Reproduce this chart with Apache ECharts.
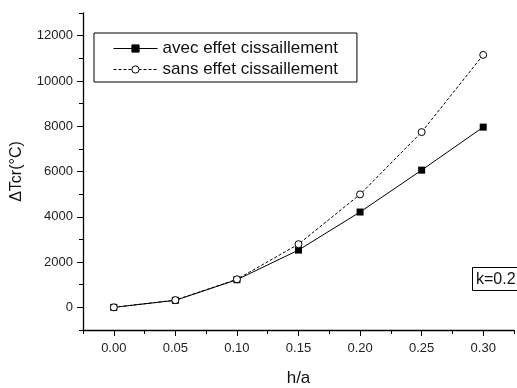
<!DOCTYPE html>
<html>
<head>
<meta charset="utf-8">
<script src="https://cdn.jsdelivr.net/npm/echarts@6/dist/echarts.min.js"></script>
<style>
html,body{margin:0;padding:0;background:#fff;}
#c{width:517px;height:388px;}
</style>
</head>
<body>
<div id="c"></div>
<script>
var hValues = [0.00, 0.05, 0.10, 0.15, 0.20, 0.25, 0.30];
var avecEffet = [0, 310, 1220, 2530, 4210, 6060, 7960];
var sansEffet = [0, 320, 1240, 2790, 4990, 7740, 11150];
var xMajorTicks = [0.00, 0.05, 0.10, 0.15, 0.20, 0.25, 0.30];
var yMajorTicks = [0, 2000, 4000, 6000, 8000, 10000, 12000];
var seriesNames = ['avec effet cissaillement', 'sans effet cissaillement'];

var FONT = 'Liberation Sans, Arial, sans-serif';
var chart = echarts.init(document.getElementById('c'));

function pairs(xs, ys) { return xs.map(function (x, i) { return [x, ys[i]]; }); }

var axisLineStyle = { color: '#000', width: 1.3 };

chart.setOption({
  animation: false,
  backgroundColor: '#fff',
  grid: { left: 83, right: 3, top: 13, bottom: 58, containLabel: false, outerBoundsMode: 'none' },
  title: {
    text: 'k=0.2', left: 472, top: 267,
    borderColor: '#000', borderWidth: 1, padding: [4, 4, 3, 4],
    textStyle: { fontFamily: FONT, fontSize: 16, fontWeight: 'normal', color: '#111', lineHeight: 17 }
  },
  legend: {
    data: seriesNames, orient: 'vertical', left: 94, top: 33,
    borderColor: '#000', borderWidth: 1, padding: [7, 19, 4, 19],
    itemWidth: 44, itemHeight: 9, itemGap: 4, selectedMode: false,
    itemStyle: { borderWidth: 1 },
    lineStyle: { width: 1 },
    textStyle: { fontFamily: FONT, fontSize: 17, color: '#111', lineHeight: 17 }
  },
  xAxis: [{
    type: 'value', min: -0.025, max: 0.325, interval: 0.025,
    name: 'h/a', nameLocation: 'middle', nameGap: 40,
    nameTextStyle: { fontFamily: FONT, fontSize: 17, color: '#111' },
    axisLine: { onZero: false, lineStyle: axisLineStyle },
    axisTick: { length: 4, lineStyle: { color: '#000' } },
    splitLine: { show: false },
    axisLabel: {
      fontFamily: FONT, fontSize: 13, color: '#222', margin: 12,
      formatter: function (v) {
        var r = Math.round(v * 1000);
        return (r % 50 === 0 && r >= 0) ? (r / 1000).toFixed(2) : '';
      }
    }
  }, {
    type: 'value', min: -0.025, max: 0.325, position: 'bottom',
    axisLine: { show: false, onZero: false },
    axisTick: { show: true, length: 6, customValues: xMajorTicks, lineStyle: { color: '#000' } },
    axisLabel: { show: false }, splitLine: { show: false }
  }],
  yAxis: [{
    type: 'value', min: -1000, max: 13000, interval: 1000,
    name: 'ΔTcr(°C)', nameLocation: 'middle', nameGap: 58,
    nameTextStyle: { fontFamily: FONT, fontSize: 16, color: '#111' },
    axisLine: { show: true, onZero: false, lineStyle: axisLineStyle },
    axisTick: { show: true, length: 4, lineStyle: { color: '#000' } },
    splitLine: { show: false },
    axisLabel: {
      fontFamily: FONT, fontSize: 13, color: '#222', margin: 10,
      formatter: function (v) { return (v % 2000 === 0) ? String(v) : ''; }
    }
  }, {
    type: 'value', min: -1000, max: 13000, position: 'left',
    axisLine: { show: false, onZero: false },
    axisTick: { show: true, length: 6, customValues: yMajorTicks, lineStyle: { color: '#000' } },
    axisLabel: { show: false }, splitLine: { show: false }
  }],
  series: [{
    name: seriesNames[0], type: 'line', data: pairs(hValues, avecEffet),
    symbol: 'rect', symbolSize: 7,
    lineStyle: { color: '#000', width: 1 },
    itemStyle: { color: '#000', borderColor: '#000', borderWidth: 0 },
    z: 2
  }, {
    name: seriesNames[1], type: 'line', data: pairs(hValues, sansEffet),
    symbol: 'circle', symbolSize: 7,
    lineStyle: { color: '#000', width: 1, type: [3, 2] },
    itemStyle: { color: '#fff', borderColor: '#000', borderWidth: 1 },
    z: 3
  }]
});
</script>
</body>
</html>
